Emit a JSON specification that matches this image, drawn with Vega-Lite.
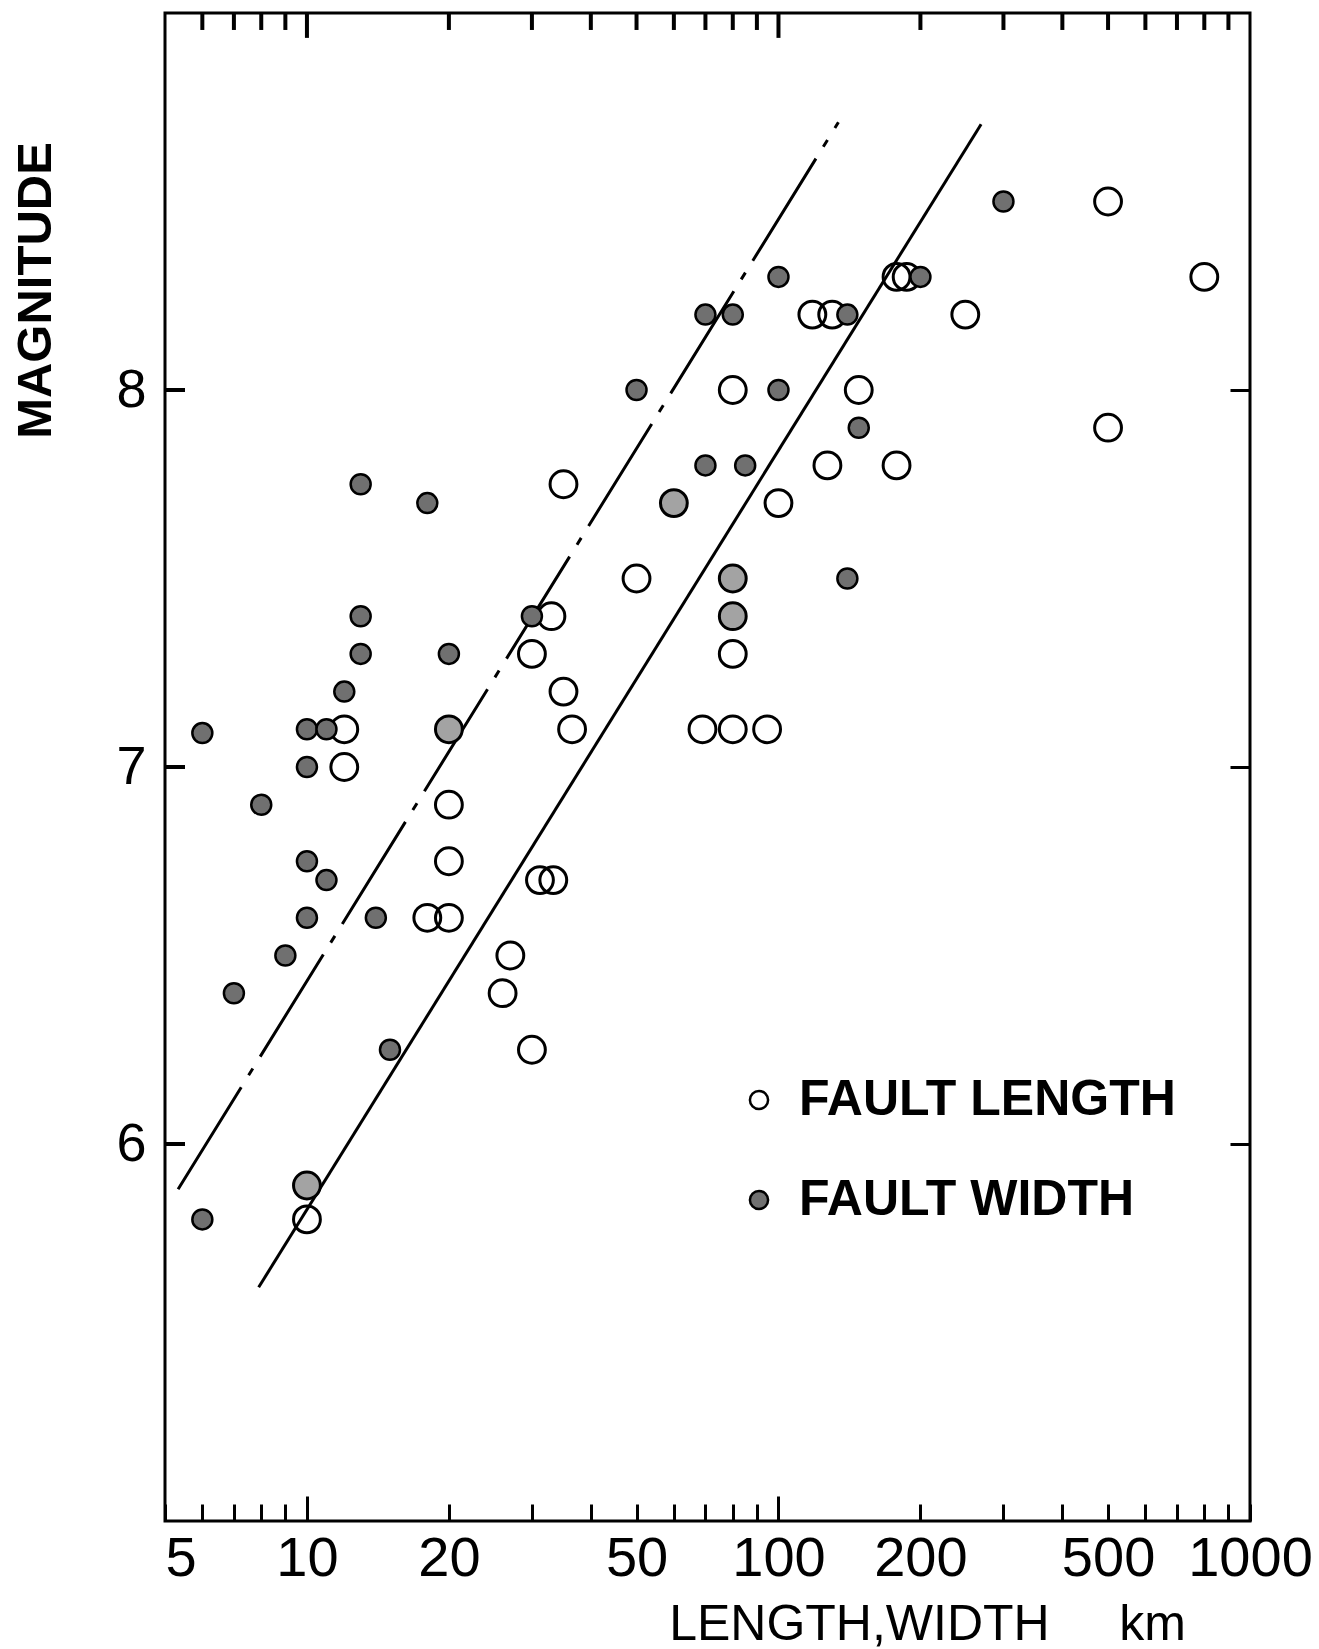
{
  "$schema": "https://vega.github.io/schema/vega-lite/v6.json",
  "autosize": {"type": "none"},
  "width": 1085,
  "height": 1508,
  "padding": {"left": 165, "top": 13, "right": 69, "bottom": 128},
  "background": "white",
  "config": {
    "view": {"stroke": "black", "strokeWidth": 3},
    "font": "Liberation Sans",
    "axis": {"grid": false, "domain": false, "tickColor": "black", "tickWidth": 3, "labelColor": "black", "titleColor": "black"}
  },
  "datasets": {
    "pts": [
      {"km": 10, "M": 5.8, "type": "FAULT LENGTH"},
      {"km": 10, "M": 5.89, "type": "FAULT LENGTH"},
      {"km": 12, "M": 7.1, "type": "FAULT LENGTH"},
      {"km": 12, "M": 7.0, "type": "FAULT LENGTH"},
      {"km": 18, "M": 6.6, "type": "FAULT LENGTH"},
      {"km": 20, "M": 6.6, "type": "FAULT LENGTH"},
      {"km": 20, "M": 6.9, "type": "FAULT LENGTH"},
      {"km": 20, "M": 6.75, "type": "FAULT LENGTH"},
      {"km": 20, "M": 7.1, "type": "FAULT LENGTH"},
      {"km": 26, "M": 6.4, "type": "FAULT LENGTH"},
      {"km": 27, "M": 6.5, "type": "FAULT LENGTH"},
      {"km": 30, "M": 6.25, "type": "FAULT LENGTH"},
      {"km": 30, "M": 7.3, "type": "FAULT LENGTH"},
      {"km": 31.2, "M": 6.7, "type": "FAULT LENGTH"},
      {"km": 33.3, "M": 6.7, "type": "FAULT LENGTH"},
      {"km": 33, "M": 7.4, "type": "FAULT LENGTH"},
      {"km": 35, "M": 7.75, "type": "FAULT LENGTH"},
      {"km": 35, "M": 7.2, "type": "FAULT LENGTH"},
      {"km": 36.5, "M": 7.1, "type": "FAULT LENGTH"},
      {"km": 50, "M": 7.5, "type": "FAULT LENGTH"},
      {"km": 60, "M": 7.7, "type": "FAULT LENGTH"},
      {"km": 69, "M": 7.1, "type": "FAULT LENGTH"},
      {"km": 80, "M": 7.1, "type": "FAULT LENGTH"},
      {"km": 80, "M": 7.3, "type": "FAULT LENGTH"},
      {"km": 80, "M": 7.4, "type": "FAULT LENGTH"},
      {"km": 80, "M": 7.5, "type": "FAULT LENGTH"},
      {"km": 80, "M": 8.0, "type": "FAULT LENGTH"},
      {"km": 94.6, "M": 7.1, "type": "FAULT LENGTH"},
      {"km": 100, "M": 7.7, "type": "FAULT LENGTH"},
      {"km": 118, "M": 8.2, "type": "FAULT LENGTH"},
      {"km": 130, "M": 8.2, "type": "FAULT LENGTH"},
      {"km": 127, "M": 7.8, "type": "FAULT LENGTH"},
      {"km": 148, "M": 8.0, "type": "FAULT LENGTH"},
      {"km": 178, "M": 8.3, "type": "FAULT LENGTH"},
      {"km": 187, "M": 8.3, "type": "FAULT LENGTH"},
      {"km": 178, "M": 7.8, "type": "FAULT LENGTH"},
      {"km": 249, "M": 8.2, "type": "FAULT LENGTH"},
      {"km": 500, "M": 8.5, "type": "FAULT LENGTH"},
      {"km": 500, "M": 7.9, "type": "FAULT LENGTH"},
      {"km": 800, "M": 8.3, "type": "FAULT LENGTH"},
      {"km": 6, "M": 7.09, "type": "FAULT WIDTH"},
      {"km": 6, "M": 5.8, "type": "FAULT WIDTH"},
      {"km": 7, "M": 6.4, "type": "FAULT WIDTH"},
      {"km": 8, "M": 6.9, "type": "FAULT WIDTH"},
      {"km": 9, "M": 6.5, "type": "FAULT WIDTH"},
      {"km": 10, "M": 7.1, "type": "FAULT WIDTH"},
      {"km": 10, "M": 7.0, "type": "FAULT WIDTH"},
      {"km": 10, "M": 6.75, "type": "FAULT WIDTH"},
      {"km": 10, "M": 6.6, "type": "FAULT WIDTH"},
      {"km": 10, "M": 5.89, "type": "FAULT WIDTH"},
      {"km": 11, "M": 7.1, "type": "FAULT WIDTH"},
      {"km": 11, "M": 6.7, "type": "FAULT WIDTH"},
      {"km": 12, "M": 7.2, "type": "FAULT WIDTH"},
      {"km": 13, "M": 7.75, "type": "FAULT WIDTH"},
      {"km": 13, "M": 7.4, "type": "FAULT WIDTH"},
      {"km": 13, "M": 7.3, "type": "FAULT WIDTH"},
      {"km": 14, "M": 6.6, "type": "FAULT WIDTH"},
      {"km": 15, "M": 6.25, "type": "FAULT WIDTH"},
      {"km": 18, "M": 7.7, "type": "FAULT WIDTH"},
      {"km": 20, "M": 7.3, "type": "FAULT WIDTH"},
      {"km": 20, "M": 7.1, "type": "FAULT WIDTH"},
      {"km": 30, "M": 7.4, "type": "FAULT WIDTH"},
      {"km": 50, "M": 8.0, "type": "FAULT WIDTH"},
      {"km": 60, "M": 7.7, "type": "FAULT WIDTH"},
      {"km": 70, "M": 8.2, "type": "FAULT WIDTH"},
      {"km": 70, "M": 7.8, "type": "FAULT WIDTH"},
      {"km": 80, "M": 8.2, "type": "FAULT WIDTH"},
      {"km": 80, "M": 7.5, "type": "FAULT WIDTH"},
      {"km": 80, "M": 7.4, "type": "FAULT WIDTH"},
      {"km": 85, "M": 7.8, "type": "FAULT WIDTH"},
      {"km": 100, "M": 8.3, "type": "FAULT WIDTH"},
      {"km": 100, "M": 8.0, "type": "FAULT WIDTH"},
      {"km": 140, "M": 8.2, "type": "FAULT WIDTH"},
      {"km": 148, "M": 7.9, "type": "FAULT WIDTH"},
      {"km": 140, "M": 7.5, "type": "FAULT WIDTH"},
      {"km": 200, "M": 8.3, "type": "FAULT WIDTH"},
      {"km": 300, "M": 8.5, "type": "FAULT WIDTH"}
    ],
    "lines": [
      {"line": "dashdot", "km": 5.33, "M": 5.88},
      {"line": "dashdot", "km": 134, "M": 8.71},
      {"line": "solid", "km": 7.9, "M": 5.62},
      {"line": "solid", "km": 269, "M": 8.705}
    ],
    "xticks": [
      {"km": 6}, {"km": 7}, {"km": 8}, {"km": 9}, {"km": 10},
      {"km": 20}, {"km": 30}, {"km": 40}, {"km": 50}, {"km": 60}, {"km": 70}, {"km": 80}, {"km": 90}, {"km": 100},
      {"km": 200}, {"km": 300}, {"km": 400}, {"km": 500}, {"km": 600}, {"km": 700}, {"km": 800}, {"km": 900}
    ],
    "yticks": [{"M": 6}, {"M": 7}, {"M": 8}]
  },
  "resolve": {"axis": {"x": "independent", "y": "independent"}},
  "layer": [
    {
      "data": {"name": "lines"},
      "transform": [{"filter": "datum.line === 'dashdot'"}],
      "mark": {"type": "line", "color": "black", "strokeWidth": 3, "strokeDash": [120, 14, 8, 14]},
      "encoding": {
        "x": {
          "field": "km", "type": "quantitative",
          "scale": {"type": "log", "domain": [5, 1000], "nice": false},
          "axis": {
            "orient": "bottom",
            "offset": -17,
            "values": [5, 6, 7, 8, 9, 10, 20, 30, 40, 50, 60, 70, 80, 90, 100, 200, 300, 400, 500, 600, 700, 800, 900, 1000],
            "labelExpr": "indexof([5, 10, 20, 50, 100, 200, 500, 1000], datum.value) >= 0 ? datum.value + '' : ''",
            "tickSize": 17,
            "labelFont": "Liberation Sans",
            "labelFontSize": 56,
            "labelPadding": 10,
            "labelBaseline": "top",
            "labelAlign": {"condition": {"test": "datum.value === 5", "value": "left"}, "value": "center"},
            "labelFlush": false,
            "labelOverlap": false,
            "title": "LENGTH,WIDTH\u00a0\u00a0\u00a0\u00a0\u00a0km",
            "titleFontSize": 50,
            "titleFontWeight": "normal",
            "titleX": 762,
            "titleY": 135,
            "titleAlign": "center",
            "titleBaseline": "alphabetic",
            "titleAnchor": null
          }
        },
        "y": {
          "field": "M", "type": "quantitative",
          "scale": {"domain": [5, 9], "nice": false, "zero": false},
          "axis": {
            "orient": "left",
            "values": [6, 7, 8],
            "ticks": false,
            "labelFontSize": 54,
            "labelPadding": 19,
            "labelAlign": "right",
            "labelBaseline": "middle",
            "title": "MAGNITUDE",
            "titleFontSize": 49,
            "titleFontWeight": "bold",
            "titleAngle": 270,
            "titleX": -115,
            "titleY": 277,
            "titleAlign": "center",
            "titleBaseline": "alphabetic"
          }
        }
      }
    },
    {
      "data": {"name": "lines"},
      "transform": [{"filter": "datum.line === 'solid'"}],
      "mark": {"type": "line", "color": "black", "strokeWidth": 3},
      "encoding": {
        "x": {"field": "km", "type": "quantitative", "scale": {"type": "log", "domain": [5, 1000], "nice": false}, "axis": null},
        "y": {"field": "M", "type": "quantitative", "scale": {"domain": [5, 9], "nice": false, "zero": false}, "axis": null}
      }
    },
    {
      "data": {"name": "pts"},
      "transform": [
        {"joinaggregate": [{"op": "count", "as": "n"}], "groupby": ["km", "M"]},
        {"filter": "datum.type === 'FAULT LENGTH'"}
      ],
      "mark": {"type": "point", "shape": "circle", "filled": true, "size": 720, "stroke": "black", "strokeWidth": 3, "opacity": 1},
      "encoding": {
        "x": {"field": "km", "type": "quantitative", "scale": {"type": "log", "domain": [5, 1000], "nice": false}, "axis": null},
        "y": {
          "field": "M", "type": "quantitative",
          "scale": {"domain": [5, 9], "nice": false, "zero": false},
          "axis": {
            "orient": "right",
            "offset": -20,
            "values": [6, 7, 8],
            "tickSize": 20,
            "labels": false,
            "title": null
          }
        },
        "fill": {
          "field": "type", "type": "nominal",
          "scale": {"domain": ["FAULT LENGTH", "FAULT WIDTH"], "range": ["transparent", "#707070"]},
          "condition": {"test": "datum.n > 1", "value": "#a3a3a3"},
          "legend": {
            "orient": "none",
            "legendX": 569,
            "legendY": 1062,
            "title": null,
            "direction": "vertical",
            "padding": 0,
            "labelFontSize": 50,
            "labelFont": "Liberation Sans",
            "labelFontWeight": "bold",
            "labelColor": "black",
            "labelLimit": 1000,
            "labelOffset": 15,
            "rowPadding": 50,
            "symbolType": "circle",
            "symbolSize": 330,
            "symbolStrokeColor": "black",
            "symbolStrokeWidth": 2.5,
            "symbolOpacity": 1
          }
        }
      }
    },
    {
      "data": {"name": "pts"},
      "transform": [
        {"joinaggregate": [{"op": "count", "as": "n"}], "groupby": ["km", "M"]},
        {"filter": "datum.type === 'FAULT WIDTH' && datum.n === 1"}
      ],
      "mark": {"type": "point", "shape": "circle", "filled": true, "size": 400, "stroke": "black", "strokeWidth": 2.5, "opacity": 1},
      "encoding": {
        "x": {
          "field": "km", "type": "quantitative",
          "scale": {"type": "log", "domain": [5, 1000], "nice": false},
          "axis": {
            "orient": "bottom",
            "offset": -25,
            "values": [10, 100],
            "tickSize": 25,
            "labels": false,
            "title": null
          }
        },
        "y": {"field": "M", "type": "quantitative", "scale": {"domain": [5, 9], "nice": false, "zero": false}, "axis": null},
        "fill": {
          "field": "type", "type": "nominal",
          "scale": {"domain": ["FAULT LENGTH", "FAULT WIDTH"], "range": ["transparent", "#707070"]}
        }
      }
    },
    {
      "data": {"name": "xticks"},
      "transform": [{"filter": "datum.km !== 10 && datum.km !== 100"}],
      "mark": {"type": "rule", "color": "black", "strokeWidth": 4},
      "encoding": {
        "x": {"field": "km", "type": "quantitative", "scale": {"type": "log", "domain": [5, 1000], "nice": false}, "axis": null},
        "y": {"datum": 9, "type": "quantitative", "scale": {"domain": [5, 9], "nice": false, "zero": false}, "axis": null},
        "y2": {"datum": 8.955}
      }
    },
    {
      "data": {"name": "xticks"},
      "transform": [{"filter": "datum.km === 10 || datum.km === 100"}],
      "mark": {"type": "rule", "color": "black", "strokeWidth": 4},
      "encoding": {
        "x": {"field": "km", "type": "quantitative", "scale": {"type": "log", "domain": [5, 1000], "nice": false}, "axis": null},
        "y": {"datum": 9, "type": "quantitative", "scale": {"domain": [5, 9], "nice": false, "zero": false}, "axis": null},
        "y2": {"datum": 8.934}
      }
    },
    {
      "data": {"name": "yticks"},
      "mark": {"type": "rule", "color": "black", "strokeWidth": 4},
      "encoding": {
        "x": {"datum": 5, "type": "quantitative", "scale": {"type": "log", "domain": [5, 1000], "nice": false}, "axis": null},
        "x2": {"datum": 5.513},
        "y": {"field": "M", "type": "quantitative", "scale": {"domain": [5, 9], "nice": false, "zero": false}, "axis": null}
      }
    }
  ]
}
